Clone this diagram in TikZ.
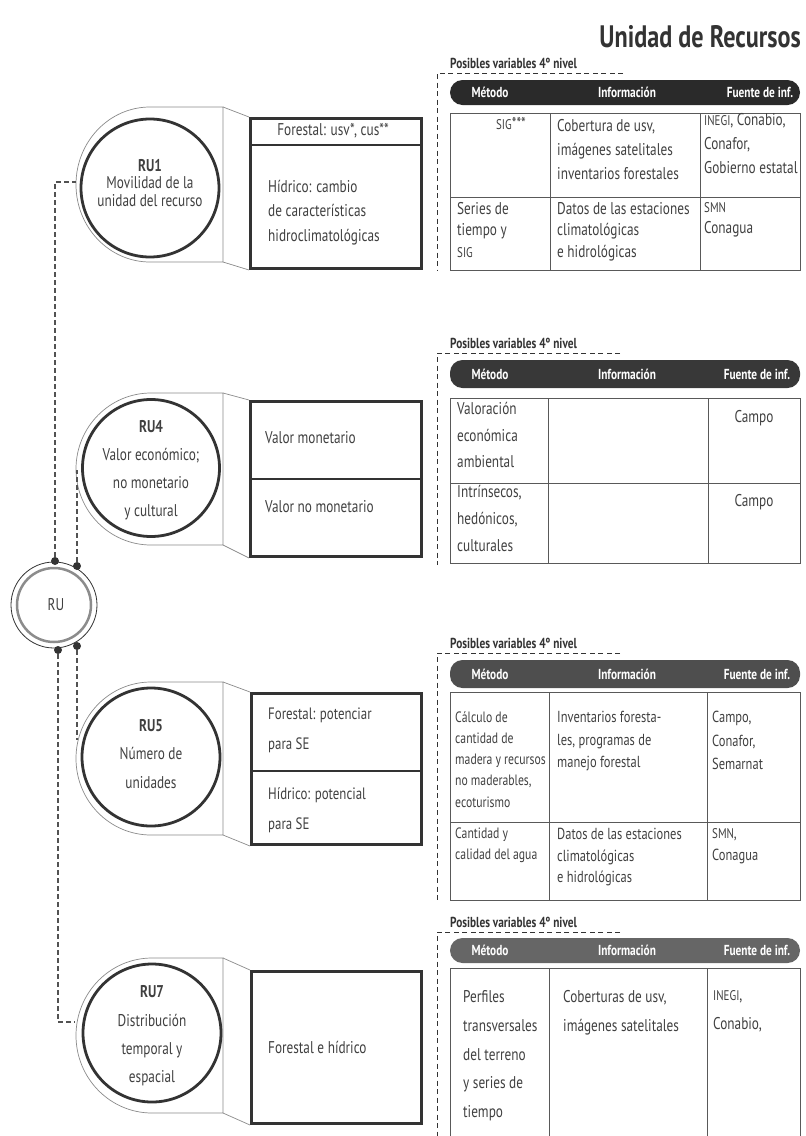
\documentclass[tikz,border=0pt]{standalone}
\usepackage{fontspec}
\setmainfont{PT Sans}[FakeStretch=0.78]
\definecolor{ink}{HTML}{333333}
\definecolor{txtc}{HTML}{404040}
\definecolor{tabc}{HTML}{8A8A8A}
\definecolor{hdA}{HTML}{2A2A2A}
\definecolor{hdB}{HTML}{383838}
\definecolor{hdC}{HTML}{4E4E4E}
\definecolor{hdD}{HTML}{666666}
\newcommand\setfs[2]{\fontsize{#1}{#2}\selectfont}
\tikzset{
  txt/.style={inner sep=0pt, text=txtc, font=\setfs{17}{20}},
  mtxt/.style={txt, align=left, anchor=north west},
  ctext/.style={inner sep=0pt, text=txtc, align=center},
  ring/.style={circle, draw=ink, line width=2.8pt, fill=white, inner sep=0pt},
  tabshape/.style={draw=tabc, line width=0.7pt, fill=white},
  boxst/.style={draw=ink, line width=3pt, inner sep=0pt, fill=white},
  divider/.style={draw=ink, line width=1.1pt},
  cell/.style={draw=black!65, line width=0.9pt},
  pill/.style={rounded corners=12.5pt, minimum width=350pt, inner sep=0pt, draw=none},
  htx/.style={inner sep=0pt, text=white, font=\bfseries\setfs{14.5}{16}},
  lbl/.style={inner sep=0pt, anchor=west, text=ink, font=\bfseries\setfs{14.5}{16}},
  conn/.style={draw=ink!85, line width=1.1pt, dash pattern=on 5pt off 3pt},
  tdash/.style={draw=ink, line width=1pt, dash pattern=on 5pt off 3.5pt},
  dot/.style={circle, fill=ink, inner sep=0pt, minimum size=8pt},
  sc/.style={}
}
\newcommand\smc[1]{{\setfs{14}{16}#1}}
\begin{document}
\begin{tikzpicture}[x=1pt,y=-1pt]
\useasboundingbox (0,0) rectangle (806,1136);

% Title
\node[anchor=east, inner sep=0pt, text=ink, font=\bfseries\setfs{31}{33}] (title) at (801,37) {Unidad de Recursos};

% ================= RU1 =================
\draw[tabshape] (223,107) -- (150,107) arc[start angle=90, end angle=270, x radius=74pt, y radius=77.5pt] -- (223,262) -- cycle;
\node[ring, minimum size=138pt] (ru1) at (150,188) {};
\node[ctext, font=\setfs{17}{17.5}] (ru1t) at (150,183) {\textbf{RU1}\\Movilidad de la\\unidad del recurso};
\node[boxst, minimum width=171pt, minimum height=150pt, anchor=north west] (b1) at (249,117) {};
\draw[tabshape, fill=none] (223,107) -- (b1.north west);
\draw[tabshape, fill=none] (223,262) -- (b1.south west);
\draw[divider] (b1.west |- 0,145) -- (b1.east |- 0,145);
\node[txt] (b1a) at (333,131) {Forestal: usv*, cus**};
\node[mtxt, font=\setfs{17}{24.5}] (b1b) at (268,180) {Hídrico: cambio\\de características\\hidroclimatológicas};

\node[lbl] (l1) at (450,63) {Posibles variables 4º nivel};
\draw[tdash] (623,73) -- (437,73) -- (437,270);
\node[pill, fill=hdA, minimum height=25pt] (h1) at (625,92.5) {};
\node[htx] (h1a) at (490,92.5) {Método};
\node[htx] (h1b) at (627,92.5) {Información};
\node[htx] (h1c) at (760,92.5) {Fuente de inf.};
\draw[cell] (450,113) rectangle (800,270);
\draw[cell] (450,197) -- (800,197);
\draw[cell] (550,113) -- (550,270);
\draw[cell] (700,113) -- (700,270);
\node[txt] (t1a) at (511,124) {\smc{SIG}***};
\node[mtxt, font=\setfs{17}{24}] (t1b) at (557,119) {Cobertura de usv,\\imágenes satelitales\\inventarios forestales};
\node[mtxt, font=\setfs{17}{24}] (t1c) at (704,113.5) {\smc{INEGI}, Conabio,\\Conafor,\\Gobierno estatal};
\node[mtxt, font=\setfs{17}{21.5}] (t1d) at (457,202) {Series de\\tiempo y\\\smc{SIG}};
\node[mtxt, font=\setfs{17}{21.5}] (t1e) at (557,202) {Datos de las estaciones\\climatológicas\\e hidrológicas};
\node[mtxt, font=\setfs{17}{21.5}] (t1f) at (704,202) {\smc{SMN}\\Conagua};

% ================= RU4 =================
\draw[tabshape] (223,393) -- (151,393) arc[start angle=90, end angle=270, x radius=75pt, y radius=76pt] -- (223,545) -- cycle;
\node[ring, minimum size=137pt] (ru4) at (151,468) {};
\node[ctext, font=\setfs{17}{28}] (ru4t) at (151,470) {\textbf{RU4}\\Valor económico;\\no monetario\\y cultural};
\node[boxst, minimum width=171pt, minimum height=155pt, anchor=north west] (b4) at (249,400) {};
\draw[tabshape, fill=none] (223,393) -- (b4.north west);
\draw[tabshape, fill=none] (223,545) -- (b4.south west);
\draw[divider] (b4.west |- 0,479) -- (b4.east |- 0,479);
\node[txt, anchor=west] (b4a) at (265,438) {Valor monetario};
\node[txt, anchor=west] (b4b) at (265,507) {Valor no monetario};

\node[lbl] (l4) at (450,343) {Posibles variables 4º nivel};
\draw[tdash] (620,353) -- (437,353) -- (437,565);
\node[pill, fill=hdB, minimum height=28pt] (h4) at (625,374) {};
\node[htx] (h4a) at (490,374) {Método};
\node[htx] (h4b) at (627,374) {Información};
\node[htx] (h4c) at (757,374) {Fuente de inf.};
\draw[cell] (450,398) rectangle (800,563);
\draw[cell] (450,483) -- (800,483);
\draw[cell] (548,398) -- (548,563);
\draw[cell] (708,398) -- (708,563);
\node[mtxt, font=\setfs{17}{26.5}] (t4a) at (457,402.5) {Valoración\\económica\\ambiental};
\node[txt] (t4b) at (754,418) {Campo};
\node[mtxt, font=\setfs{17}{27}] (t4c) at (457,485.5) {Intrínsecos,\\hedónicos,\\culturales};
\node[txt] (t4d) at (754,502) {Campo};

% ================= RU center =================
\node[circle, draw=ink, line width=0.8pt, minimum size=86pt, inner sep=0pt, fill=white] (ru) at (54,605) {};
\draw[black!45, line width=2.5pt] (ru.center) circle[radius=37pt];
\node[ctext, font=\setfs{17}{19}] (rut) at (56,605) {RU};
\node[dot] (dA) at (55,561) {};
\node[dot] (dB) at (77,566) {};
\node[dot] (dC) at (58,650) {};
\node[dot] (dD) at (77,646) {};

% ================= RU5 =================
\draw[tabshape] (223,682) -- (151,682) arc[start angle=90, end angle=270, x radius=75pt, y radius=76.5pt] -- (223,835) -- cycle;
\node[ring, minimum size=138pt] (ru5) at (151,757) {};
\node[ctext, font=\setfs{17}{28.5}] (ru5t) at (151,754) {\textbf{RU5}\\Número de\\unidades};
\node[boxst, minimum width=170pt, minimum height=151pt, anchor=north west] (b5) at (250,692) {};
\draw[tabshape, fill=none] (223,682) -- (b5.north west);
\draw[tabshape, fill=none] (223,835) -- (b5.south west);
\draw[divider] (b5.west |- 0,771) -- (b5.east |- 0,771);
\node[mtxt, font=\setfs{16.5}{30}] (b5a) at (268,707.5) {Forestal: potenciar\\para SE};
\node[mtxt, font=\setfs{16.5}{30}] (b5b) at (268,787.5) {Hídrico: potencial\\para SE};

\node[lbl] (l5) at (450,643) {Posibles variables 4º nivel};
\draw[tdash] (620,653) -- (437,653) -- (437,900);
\node[pill, fill=hdC, minimum height=28pt] (h5) at (625,674) {};
\node[htx] (h5a) at (490,674) {Método};
\node[htx] (h5b) at (627,674) {Información};
\node[htx] (h5c) at (757,674) {Fuente de inf.};
\draw[cell] (450,692) rectangle (800,900);
\draw[cell] (450,822) -- (800,822);
\draw[cell] (549,692) -- (549,900);
\draw[cell] (707,692) -- (707,900);
\node[mtxt, font=\setfs{15}{21.3}] (t5a) at (455,711) {Cálculo de\\cantidad de\\madera y recursos\\no maderables,\\ecoturismo};
\node[mtxt, font=\setfs{16}{22.5}] (t5b) at (557,711) {Inventarios foresta-\\les, programas de\\manejo forestal};
\node[mtxt, font=\setfs{16}{23.5}] (t5c) at (712,711) {Campo,\\Conafor,\\Semarnat};
\node[mtxt, font=\setfs{15}{21}] (t5d) at (455,828) {Cantidad y\\calidad del agua};
\node[mtxt, font=\setfs{16}{21.5}] (t5e) at (557,828) {Datos de las estaciones\\climatológicas\\e hidrológicas};
\node[mtxt, font=\setfs{16}{22}] (t5f) at (712,828) {\smc{SMN},\\Conagua};

% ================= RU7 =================
\draw[tabshape] (223,958) -- (152,958) arc[start angle=90, end angle=270, x radius=76pt, y radius=77.5pt] -- (223,1113) -- cycle;
\node[ring, minimum size=138pt] (ru7) at (152,1033) {};
\node[ctext, font=\setfs{17}{28.3}] (ru7t) at (152,1036) {\textbf{RU7}\\Distribución\\temporal y\\espacial};
\node[boxst, minimum width=170pt, minimum height=152pt, anchor=north west] (b7) at (250,970) {};
\draw[tabshape, fill=none] (223,958) -- (b7.north west);
\draw[tabshape, fill=none] (223,1113) -- (b7.south west);
\node[txt, anchor=west] (b7a) at (268,1047) {Forestal e hídrico};

\node[lbl] (l7) at (450,922) {Posibles variables 4º nivel};
\draw[tdash] (620,932) -- (437,932) -- (437,1136);
\node[pill, fill=hdD, minimum height=25pt] (h7) at (625,950.5) {};
\node[htx] (h7a) at (490,950.5) {Método};
\node[htx] (h7b) at (627,950.5) {Información};
\node[htx] (h7c) at (757,950.5) {Fuente de inf.};
\draw[cell] (450,1136) -- (450,968) -- (800,968) -- (800,1136);
\draw[cell] (549,968) -- (549,1136);
\draw[cell] (707,968) -- (707,1136);
\node[mtxt, font=\setfs{17}{28.7}] (t7a) at (463,990.5) {Perfiles\\transversales\\del terreno\\y series de\\tiempo};
\node[mtxt, font=\setfs{17}{29}] (t7b) at (563,990.5) {Coberturas de usv,\\imágenes satelitales};
\node[mtxt, font=\setfs{17}{29}] (t7c) at (713,990.5) {\smc{INEGI},\\Conabio,};

% ================= connectors =================
\coordinate (e1) at (76,182);
\coordinate (e4) at (77,470);
\coordinate (e5) at (77,740);
\coordinate (e7) at (75,1022);
\draw[conn] (dA) |- (e1);
\draw[conn] (dB) -- (e4);
\draw[conn] (dD) -- (e5);
\draw[conn] (dC) |- (e7);
\end{tikzpicture}
\end{document}
